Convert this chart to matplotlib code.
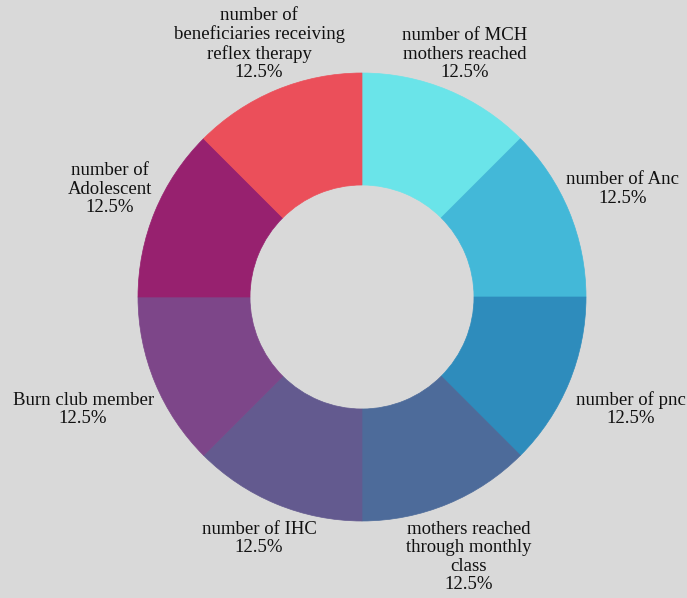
import numpy as np
import matplotlib.pyplot as plt

labels = ['number of MCH\nmothers reached', 'number of Anc', 'number of pnc',
          'mothers reached\nthrough monthly\nclass', 'number of IHC',
          'Burn club member', 'number of\nAdolescent',
          'number of\nbeneficiaries receiving\nreflex therapy']
values = [1, 1, 1, 1, 1, 1, 1, 1]
colors = ['#6AE4E9', '#43B8D8', '#2E8CBC', '#4D6B9A',
          '#635A8F', '#7D4689', '#97216F', '#EB4F5A']

# small horizontal nudges for the labels, in pixels
nudge_px = [0, -5, 3, 4, 0, -13, 14, 0]

W, H = 687, 598
cx, cy, R = 362, 297, 224

plt.rcParams['font.family'] = ['Liberation Serif', 'DejaVu Serif']
fig = plt.figure(figsize=(W / 100, H / 100), dpi=100, facecolor='#D9D9D9')
ax = fig.add_axes([0, 0, 1, 1])
ax.set_facecolor('#D9D9D9')

wedges, _ = ax.pie(values, colors=colors, startangle=90, counterclock=False,
                   radius=1, wedgeprops=dict(width=0.5, linewidth=0.5, antialiased=True))
for w in wedges:
    w.set_edgecolor(w.get_facecolor())

total = sum(values)
for w, lab, v, nd in zip(wedges, labels, values, nudge_px):
    mid = np.deg2rad((w.theta1 + w.theta2) / 2)
    c, s = np.cos(mid), np.sin(mid)
    txt = lab + '\n' + f'{100 * v / total:.1f}%'
    if s > 0.7:
        x, y, va = 1.2 * c, 0.965, 'bottom'
    elif s < -0.7:
        x, y, va = 1.2 * c, -1.0, 'top'
    else:
        x, y, va = 1.285 * c, 1.285 * s - 0.01, 'center'
    ax.text(x + nd / R, y, txt, ha='center', va=va, fontsize=13.5, color='#111111',
            linespacing=1.1)

ax.set_xlim(-cx / R, (W - cx) / R)
ax.set_ylim(-(H - cy) / R, cy / R)
ax.set_aspect('auto')
ax.axis('off')

fig.savefig('out.png', dpi=100, facecolor=fig.get_facecolor())
